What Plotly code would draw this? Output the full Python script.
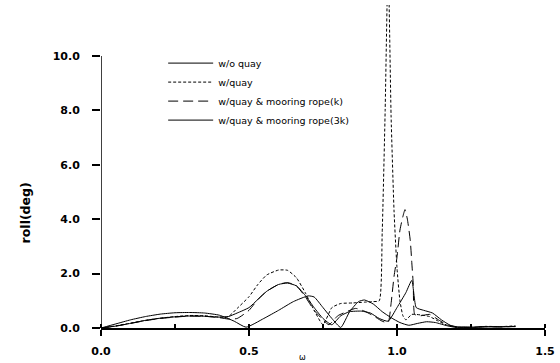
import plotly.graph_objects as go

# ---- data ----
omega_woq = [0, 0.05, 0.1, 0.15, 0.2, 0.25, 0.3, 0.35, 0.4, 0.45, 0.49, 0.55, 0.6, 0.65, 0.7,
             0.72, 0.75, 0.78, 0.81, 0.84, 0.87, 0.89, 0.92, 0.95, 0.98, 1.01, 1.04, 1.07, 1.1,
             1.13, 1.17, 1.2, 1.25, 1.3, 1.35, 1.4]
roll_woq = [0, 0.15, 0.3, 0.42, 0.51, 0.56, 0.57, 0.55, 0.47, 0.25, 0.03, 0.35, 0.65, 0.97, 1.18,
            1.14, 0.75, 0.35, 0.02, 0.6, 0.97, 1.03, 0.88, 0.6, 0.38, 0.2, 0.1, 0.17, 0.23,
            0.2, 0.08, 0.02, 0.02, 0.05, 0.04, 0.06]

omega_wq = [0, 0.05, 0.1, 0.15, 0.2, 0.25, 0.3, 0.35, 0.4, 0.43, 0.46, 0.5, 0.53, 0.56, 0.6, 0.63,
            0.66, 0.69, 0.72, 0.75, 0.78, 0.81, 0.85, 0.89, 0.92, 0.94, 0.95, 0.96, 0.97, 0.98,
            0.99, 1.0, 1.01, 1.02, 1.03, 1.05, 1.08, 1.11, 1.14, 1.17, 1.2, 1.25, 1.3, 1.35, 1.4]
roll_wq = [0, 0.08, 0.18, 0.28, 0.36, 0.42, 0.46, 0.45, 0.4, 0.42, 0.72, 1.15, 1.6, 1.95, 2.13, 2.12,
           1.85, 1.3, 0.65, 0.12, 0.75, 0.9, 0.92, 0.95, 0.97, 1.0, 3.5, 8.0, 13.5, 7.8,
           4.3, 2.2, 1.0, 0.45, 0.3, 0.5, 0.48, 0.42, 0.25, 0.1, 0.03, 0.02, 0.06, 0.05, 0.08]

omega_k = [0, 0.05, 0.1, 0.15, 0.2, 0.25, 0.3, 0.35, 0.4, 0.43, 0.46, 0.5, 0.53, 0.56, 0.6, 0.63,
           0.66, 0.69, 0.72, 0.75, 0.77, 0.8, 0.83, 0.86, 0.89, 0.92, 0.95, 0.97, 0.98, 0.99,
           1.0, 1.01, 1.02, 1.027, 1.035, 1.045, 1.05, 1.055, 1.06, 1.08, 1.11, 1.14, 1.17,
           1.2, 1.25, 1.3, 1.35, 1.4]
roll_k = [0, 0.07, 0.17, 0.27, 0.35, 0.4, 0.44, 0.43, 0.38, 0.33, 0.35, 0.65, 1.05, 1.35, 1.6, 1.67,
          1.55, 1.15, 0.65, 0.3, 0.12, 0.45, 0.6, 0.72, 0.62, 0.45, 0.25, 0.2, 0.9, 1.9,
          2.6, 3.6, 4.1, 4.35, 4.0, 3.2, 2.4, 1.6, 0.5, 0.45, 0.5, 0.3, 0.12,
          0.04, 0.03, 0.05, 0.04, 0.06]

omega_3k = [0, 0.05, 0.1, 0.15, 0.2, 0.25, 0.3, 0.35, 0.4, 0.43, 0.46, 0.5, 0.53, 0.56, 0.6, 0.63,
            0.66, 0.69, 0.72, 0.75, 0.78, 0.81, 0.84, 0.88, 0.91, 0.94, 0.97, 1.0, 1.03, 1.05,
            1.065, 1.09, 1.12, 1.15, 1.18, 1.2, 1.25, 1.3, 1.35, 1.4]
roll_3k = [0, 0.07, 0.17, 0.28, 0.36, 0.41, 0.44, 0.43, 0.4, 0.42, 0.55, 0.75, 1.05, 1.35, 1.6, 1.65,
           1.55, 1.2, 0.75, 0.35, 0.12, 0.45, 0.6, 0.62, 0.55, 0.35, 0.25, 0.75, 1.3, 1.75,
           0.75, 0.65, 0.55, 0.3, 0.1, 0.05, 0.03, 0.04, 0.05, 0.05]

series_names = ["w/o quay", "w/quay", "w/quay & mooring rope(k)", "w/quay & mooring rope(3k)"]
x_ticks = [0.0, 0.5, 1.0, 1.5]
y_ticks = [0.0, 2.0, 4.0, 6.0, 8.0, 10.0]

# ---- figure ----
fig = go.Figure()
dashes = ["solid", "3px,2px", "10px,5px", "solid"]
data = [(omega_woq, roll_woq), (omega_wq, roll_wq), (omega_k, roll_k), (omega_3k, roll_3k)]
for (xs, ys), name, dash in zip(data, series_names, dashes):
    fig.add_trace(go.Scatter(x=xs, y=ys, mode="lines", name=name,
                             line=dict(color="black", width=1, dash=dash,
                                       shape="spline", smoothing=0.5)))

tickfont = dict(family="DejaVu Sans, sans-serif", size=11, color="black", weight="bold")
fig.update_layout(
    width=560, height=363,
    margin=dict(l=101, r=15, t=5, b=35),
    paper_bgcolor="white", plot_bgcolor="white",
    showlegend=True,
    legend=dict(x=0.14, y=0.865, xanchor="left", yanchor="top",
                bgcolor="rgba(0,0,0,0)", itemwidth=45, tracegroupgap=0,
                font=dict(family="DejaVu Sans, sans-serif", size=9.5, color="black")),
    xaxis=dict(range=[0, 1.5], tickvals=x_ticks, ticktext=[f"{v:.1f}" for v in x_ticks],
               showline=True, linecolor="black", linewidth=1.5,
               ticks="outside", ticklen=6, tickwidth=1.5, tickcolor="black",
               minor=dict(dtick=0.25, ticks="inside", ticklen=4, tickwidth=1.5, tickcolor="black"),
               showgrid=False, zeroline=False, tickfont=tickfont, ticklabelstandoff=6),
    yaxis=dict(range=[0, 11.87], tickvals=y_ticks, ticktext=[f"{v:.1f}" for v in y_ticks],
               showline=False, ticks="outside", ticklen=8, tickwidth=1.5, tickcolor="black",
               showgrid=False, zeroline=False, tickfont=tickfont, ticklabelstandoff=10),
)
# y-axis line stops at 10.0 as in the reference
fig.add_shape(type="line", xref="x", yref="y", x0=0, x1=0, y0=-0.18, y1=10,
              line=dict(color="black", width=1.5))
fig.add_annotation(text="roll(deg)", xref="paper", yref="paper", x=-0.171, y=0.355,
                   xanchor="center", yanchor="middle",
                   textangle=-90, showarrow=False,
                   font=dict(family="DejaVu Sans, sans-serif", size=12.5,
                             color="black", weight="bold"))
fig.add_annotation(text="ω", xref="paper", yref="paper", x=0.453, y=-0.092,
                   showarrow=False, xanchor="center", yanchor="middle",
                   font=dict(family="DejaVu Sans, sans-serif", size=8, color="black"))

fig.write_html("out.html")
